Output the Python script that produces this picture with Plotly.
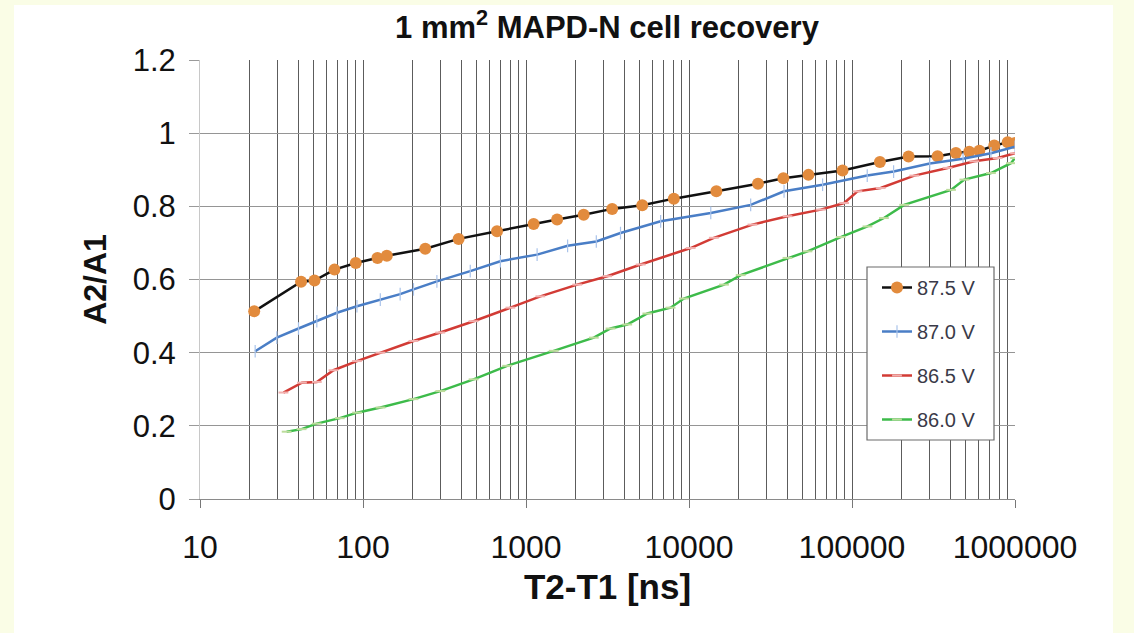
import plotly.graph_objects as go

# ---------------- data ----------------
t_875 = [21.5, 41.7, 50.4, 66.8, 90.3, 122.7, 140, 241, 386, 664, 1114, 1552, 2259, 3378,
         5166, 8072, 14720, 26500, 37930, 54070, 87480, 148300, 222400, 335000, 434000,
         524000, 604000, 746000, 902000, 1000000]
a_875 = [0.513, 0.594, 0.597, 0.627, 0.645, 0.659, 0.665, 0.684, 0.711, 0.732, 0.752, 0.764,
         0.777, 0.793, 0.803, 0.821, 0.841, 0.862, 0.877, 0.886, 0.898, 0.921, 0.936, 0.937,
         0.946, 0.949, 0.952, 0.966, 0.975, 0.973]

t_870 = [21.8, 29.6, 40.2, 52.1, 69.2, 91.8, 127.7, 169, 204, 284, 455, 696, 1170, 1800,
         2700, 3800, 6700, 13600, 23900, 38300, 66000, 124000, 180000, 300000, 480000,
         712000, 1000000]
a_870 = [0.404, 0.441, 0.466, 0.486, 0.509, 0.527, 0.545, 0.560, 0.573, 0.595, 0.623, 0.650,
         0.668, 0.692, 0.704, 0.727, 0.759, 0.782, 0.804, 0.841, 0.859, 0.884, 0.895, 0.917,
         0.930, 0.945, 0.963]

t_865 = [32.5, 42.2, 52.1, 65.9, 91.8, 128, 204, 298, 477, 802, 1225, 2061, 3150, 5050,
         10240, 14200, 24500, 40200, 64300, 89500, 108000, 150000, 241000, 386000, 562000,
         783000, 1000000]
a_865 = [0.291, 0.318, 0.320, 0.352, 0.377, 0.400, 0.432, 0.455, 0.486, 0.523, 0.554, 0.586,
         0.609, 0.641, 0.686, 0.714, 0.750, 0.773, 0.791, 0.809, 0.841, 0.850, 0.884, 0.905,
         0.923, 0.932, 0.945]

t_860 = [34, 42, 52, 72, 92, 128, 204, 298, 477, 766, 1479, 2607, 3300, 4180, 5550, 7710,
         9300, 16400, 20750, 40200, 53300, 85300, 124400, 157000, 209000, 405000, 489000,
         712000, 944000, 1000000]
a_860 = [0.184, 0.191, 0.206, 0.221, 0.236, 0.250, 0.273, 0.295, 0.327, 0.364, 0.405, 0.441,
         0.466, 0.477, 0.507, 0.523, 0.548, 0.586, 0.612, 0.659, 0.677, 0.716, 0.745, 0.768,
         0.804, 0.845, 0.873, 0.891, 0.918, 0.932]

series_names = ["87.5 V", "87.0 V", "86.5 V", "86.0 V"]

x_tickvals = [10, 100, 1000, 10000, 100000, 1000000]
x_ticktext = ["10", "100", "1000", "10000", "100000", "1000000"]
y_tickvals = [0, 0.2, 0.4, 0.6, 0.8, 1.0, 1.2]
y_ticktext = ["0", "0.2", "0.4", "0.6", "0.8", "1", "1.2"]

# ---------------- figure ----------------
W, H = 1134, 633
L, R, T, B = 200, 1015, 60, 499
FONT = "Liberation Sans, Arial, sans-serif"

fig = go.Figure()

fig.add_trace(go.Scatter(
    x=t_875, y=a_875, name=series_names[0], mode="lines+markers", legendgroup="a",
    line=dict(color="#111111", width=2.5),
    marker=dict(symbol="circle", size=12, color="#e28b3d"),
))
fig.add_trace(go.Scatter(
    x=t_870, y=a_870, name=series_names[1], mode="lines+markers", legendgroup="b",
    line=dict(color="#4a7ec6", width=2.5),
    marker=dict(symbol="line-ns", size=9, color="#a9c3ea",
                line=dict(color="#a9c3ea", width=1.2)),
))
fig.add_trace(go.Scatter(
    x=t_865, y=a_865, name=series_names[2], mode="lines+markers", legendgroup="c",
    line=dict(color="#d23b35", width=2.5),
    marker=dict(symbol="line-ew", size=7, color="#f2b0ae",
                line=dict(color="#f2b0ae", width=2)),
))
fig.add_trace(go.Scatter(
    x=t_860, y=a_860, name=series_names[3], mode="lines+markers", legendgroup="d",
    line=dict(color="#3dbb4a", width=2.5),
    marker=dict(symbol="line-ew", size=7, color="#bcdc9c",
                line=dict(color="#bcdc9c", width=2)),
))

def px_to_paper_x(px):
    return (px - L) / (R - L)

def py_to_paper_y(py):
    return (B - py) / (B - T)

# white panel on cream page
fig.add_shape(type="rect", xref="paper", yref="paper", layer="below",
              x0=px_to_paper_x(14), x1=px_to_paper_x(1113),
              y0=py_to_paper_y(640), y1=py_to_paper_y(5),
              fillcolor="white", line=dict(width=0))
# legend frame
fig.add_shape(type="rect", xref="paper", yref="paper", layer="above",
              x0=px_to_paper_x(867), x1=px_to_paper_x(994),
              y0=py_to_paper_y(440), y1=py_to_paper_y(267),
              fillcolor="white", line=dict(color="#6a6a6a", width=1.2))

fig.update_layout(
    width=W, height=H,
    margin=dict(l=L, r=W - R, t=T, b=H - B),
    paper_bgcolor="#fafde6",
    plot_bgcolor="white",
    font=dict(family=FONT, color="#1a1a1a"),
    title=dict(text="<b>1 mm<sup>2</sup> MAPD-N cell recovery</b>",
               x=px_to_paper_x(607), xref="paper", xanchor="center",
               y=1 - 27 / H, yanchor="middle",
               font=dict(size=31, color="#111111", family=FONT)),
    showlegend=True,
    legend=dict(x=px_to_paper_x(877), y=py_to_paper_y(268), xanchor="left", yanchor="top",
                bgcolor="rgba(0,0,0,0)", borderwidth=0,
                font=dict(size=20, color="#3a3a48", family=FONT),
                tracegroupgap=15, itemwidth=30),
)

fig.update_xaxes(
    type="log", range=[1, 6],
    tickvals=x_tickvals, ticktext=x_ticktext,
    tickfont=dict(size=32, family=FONT, color="#111111"),
    ticks="outside", ticklen=8, tickcolor="#777777",
    ticklabelstandoff=12,
    showgrid=True, gridcolor="#5c5c5c", gridwidth=1.4,
    minor=dict(dtick="D1", showgrid=True, gridcolor="#5c5c5c", gridwidth=1.4, ticks=""),
    showline=True, linecolor="#8a8a8a", linewidth=1,
    zeroline=False,
    title=dict(text="<b>T2-T1 [ns]</b>", font=dict(size=35, family=FONT, color="#111111"),
               standoff=10),
)

fig.update_yaxes(
    range=[0, 1.2],
    tickvals=y_tickvals, ticktext=y_ticktext,
    tickfont=dict(size=31, family=FONT, color="#111111"),
    ticks="outside", ticklen=10, tickcolor="#9a9a9a",
    ticklabelstandoff=7,
    showgrid=True, gridcolor="#959595", gridwidth=1.4,
    showline=True, linecolor="#c8c8c8", linewidth=1,
    zeroline=False,
    title=dict(text="<b>A2/A1</b>", font=dict(size=32, family=FONT, color="#111111"),
               standoff=16),
)

fig.write_html("out.html")
